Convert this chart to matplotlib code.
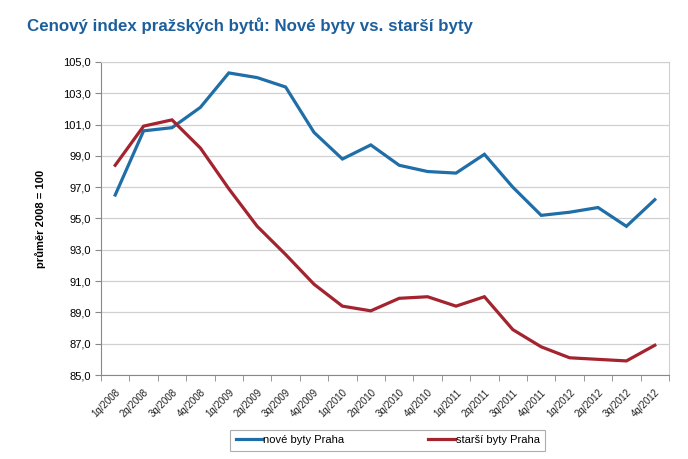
import numpy as np
import matplotlib
matplotlib.use('Agg')
import matplotlib.pyplot as plt
from matplotlib.ticker import FixedLocator, FuncFormatter

plt.rcParams['font.family'] = ['Liberation Sans', 'DejaVu Sans']

kvartaly = ['1q/2008', '2q/2008', '3q/2008', '4q/2008',
            '1q/2009', '2q/2009', '3q/2009', '4q/2009',
            '1q/2010', '2q/2010', '3q/2010', '4q/2010',
            '1q/2011', '2q/2011', '3q/2011', '4q/2011',
            '1q/2012', '2q/2012', '3q/2012', '4q/2012']
nove_byty = [96.5, 100.6, 100.8, 102.1, 104.3, 104.0, 103.4, 100.5,
             98.8, 99.7, 98.4, 98.0, 97.9, 99.1, 97.0, 95.2,
             95.4, 95.7, 94.5, 96.2]
starsi_byty = [98.4, 100.9, 101.3, 99.5, 96.9, 94.5, 92.7, 90.8,
               89.4, 89.1, 89.9, 90.0, 89.4, 90.0, 87.9, 86.8,
               86.1, 86.0, 85.9, 86.9]

modra = '#1f6ea8'
cervena = '#a3232e'

fig = plt.figure(figsize=(6.88, 4.59), dpi=100)
fig.text(0.039, 0.945, 'Cenový index pražských bytů: Nové byty vs. starší byty',
         color='#1d5f9c', fontsize=12.2, fontweight='bold', va='center', ha='left')

ax = fig.add_axes([0.1468, 0.183, 0.8256, 0.682])
x = np.arange(len(kvartaly))
ax.plot(x, nove_byty, color=modra, lw=2.3, label='nové byty Praha', solid_joinstyle='miter')
ax.plot(x, starsi_byty, color=cervena, lw=2.3, label='starší byty Praha', solid_joinstyle='miter')

ax.set_xlim(-0.5, len(kvartaly) - 0.5)
ax.set_ylim(85, 105)
ax.set_yticks(np.arange(85, 105.1, 2))
ax.yaxis.set_major_formatter(FuncFormatter(lambda v, p: f'{v:.1f}'.replace('.', ',')))
ax.grid(axis='y', color='#d0d0d0', lw=0.9)
ax.set_axisbelow(True)

ax.set_xticks(x)
ax.set_xticklabels(kvartaly, rotation=45, ha='right', rotation_mode='anchor',
                   fontsize=7, color='#222222')
ax.xaxis.set_minor_locator(FixedLocator(np.arange(-0.5, len(kvartaly), 1)))
ax.tick_params(axis='x', which='major', length=0, pad=9)
ax.tick_params(axis='x', which='minor', length=4, color='#888888', direction='out')
ax.tick_params(axis='y', length=4, color='#888888', labelsize=8, direction='out')

for s in ['top', 'right']:
    ax.spines[s].set_color('#d0d0d0')
for s in ['left', 'bottom']:
    ax.spines[s].set_color('#888888')

ax.set_ylabel('průměr 2008 = 100', fontsize=8, fontweight='bold', labelpad=12)

leg = fig.legend(loc='center', bbox_to_anchor=(0.5635, 0.041), ncol=2, fontsize=8,
                 frameon=True, fancybox=False, edgecolor='#999999',
                 handlelength=2.4, handletextpad=0.1, columnspacing=7.5,
                 borderpad=0.5)
leg.get_frame().set_linewidth(0.8)

fig.savefig('out.png', dpi=100)
